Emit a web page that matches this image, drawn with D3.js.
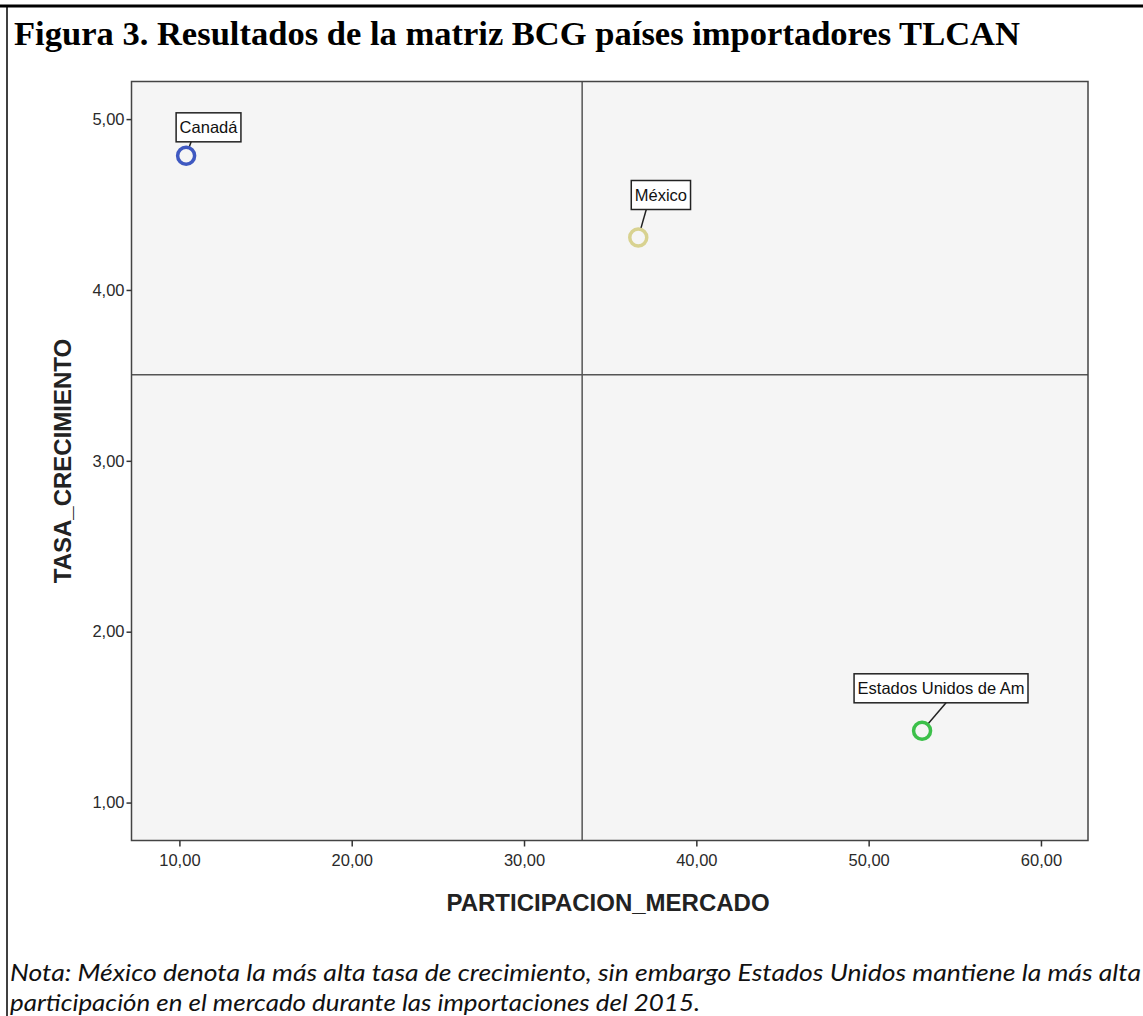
<!DOCTYPE html>
<html lang="es">
<head>
<meta charset="utf-8">
<title>Figura 3. Matriz BCG</title>
<script src="https://d3js.org/d3.v7.min.js"></script>
<style>
  body { margin: 0; background: #fff; }
  svg { display: block; }
  .tick text { font-family: "Liberation Sans", Arial, sans-serif; font-size: 16.5px; fill: #2a2a2a; }
</style>
</head>
<body>
<div id="chart"></div>
<script>
// data
var countries = ["Canadá", "México", "Estados Unidos de Am"];
var participacion = [10.39, 36.63, 53.10];
var tasa = [4.785, 4.307, 1.42];
var colors = ["#3f59c1", "#d8d290", "#3cc04a"];
var xTicks = [10, 20, 30, 40, 50, 60];
var yTicks = [1, 2, 3, 4, 5];
var xDomain = [7.22, 62.73];
var yDomain = [0.778, 5.22];

// label callout offsets (px, from point to box bottom-left)
var labelOffsets = [[-10, -14], [-7, -28], [-68, -28]];
// where the leader line leaves the box bottom (px from box left)
var leaderFrom = [15, 15, 92];

var W = 1143, H = 1016;
var plot = {left: 131.5, top: 81.5, right: 1088, bottom: 840.5};

var svg = d3.select("#chart").append("svg")
    .attr("width", W)
    .attr("height", H);

// page frame
svg.append("line").attr("x1", 0).attr("x2", W).attr("y1", 6).attr("y2", 6)
    .attr("stroke", "#000").attr("stroke-width", 3);
svg.append("line").attr("x1", 7).attr("x2", 7).attr("y1", 6).attr("y2", H)
    .attr("stroke", "#000").attr("stroke-width", 1.5);

svg.append("text")
    .attr("x", 14).attr("y", 45)
    .attr("textLength", 1006).attr("lengthAdjust", "spacingAndGlyphs")
    .style("font-family", "'Liberation Serif', 'Times New Roman', serif")
    .style("font-weight", "bold").style("font-size", "34px")
    .text("Figura 3. Resultados de la matriz BCG países importadores TLCAN");

var x = d3.scaleLinear().domain(xDomain).range([plot.left, plot.right]);
var y = d3.scaleLinear().domain(yDomain).range([plot.bottom, plot.top]);
var fmt = function(d) { return d3.format(".2f")(d).replace(".", ","); };

svg.append("rect")
    .attr("x", plot.left).attr("y", plot.top)
    .attr("width", plot.right - plot.left).attr("height", plot.bottom - plot.top)
    .attr("fill", "#f5f5f5");

// quadrant lines at the means
var mx = d3.mean(participacion), my = d3.mean(tasa);
svg.append("line").attr("x1", x(mx)).attr("x2", x(mx))
    .attr("y1", plot.top).attr("y2", plot.bottom)
    .attr("stroke", "#555").attr("stroke-width", 1.5);
svg.append("line").attr("x1", plot.left).attr("x2", plot.right)
    .attr("y1", y(my)).attr("y2", y(my))
    .attr("stroke", "#555").attr("stroke-width", 1.5);

svg.append("rect")
    .attr("x", plot.left).attr("y", plot.top)
    .attr("width", plot.right - plot.left).attr("height", plot.bottom - plot.top)
    .attr("fill", "none").attr("stroke", "#444").attr("stroke-width", 1.5);

var xAxis = svg.append("g")
    .attr("transform", "translate(0," + plot.bottom + ")")
    .call(d3.axisBottom(x).tickValues(xTicks).tickFormat(fmt).tickSize(6).tickSizeOuter(0).tickPadding(8));
var yAxis = svg.append("g")
    .attr("transform", "translate(" + plot.left + ",0)")
    .call(d3.axisLeft(y).tickValues(yTicks).tickFormat(fmt).tickSize(5).tickSizeOuter(0).tickPadding(2));
[xAxis, yAxis].forEach(function(a) {
    a.select(".domain").remove();
    a.selectAll(".tick line").attr("stroke", "#333").attr("stroke-width", 1.5);
});

svg.append("text")
    .attr("x", 608).attr("y", 911)
    .attr("text-anchor", "middle")
    .style("font-family", "'Liberation Sans', Arial, sans-serif")
    .style("font-weight", "bold").style("font-size", "24px").style("fill", "#222")
    .text("PARTICIPACION_MERCADO");

svg.append("text")
    .attr("transform", "translate(71," + 461 + ") rotate(-90)")
    .attr("text-anchor", "middle")
    .style("font-family", "'Liberation Sans', Arial, sans-serif")
    .style("font-weight", "bold").style("font-size", "24px").style("fill", "#222")
    .text("TASA_CRECIMIENTO");

// points and callouts
var pts = countries.map(function(c, i) {
    return {name: c, px: participacion[i], ty: tasa[i], color: colors[i], off: labelOffsets[i], lf: leaderFrom[i]};
});

var lab = svg.append("g").selectAll("g").data(pts).join("g");
lab.each(function(d) {
    var g = d3.select(this);
    var cx = x(d.px), cy = y(d.ty);
    var bx = cx + d.off[0], by = cy + d.off[1];
    var t = g.append("text")
        .attr("x", bx + 3.5).attr("y", by - 8.5)
        .style("font-family", "'Liberation Sans', Arial, sans-serif")
        .style("font-size", "16.5px").style("fill", "#111")
        .text(d.name);
    var w = t.node().getComputedTextLength() + 7;
    g.insert("rect", "text")
        .attr("x", bx).attr("y", by - 29)
        .attr("width", w).attr("height", 29)
        .attr("fill", "#fff").attr("stroke", "#222").attr("stroke-width", 1.5);
    // leader line from box to circle edge
    var lx = bx + d.lf, ly = by;
    var ang = Math.atan2(ly - cy, lx - cx);
    g.append("line")
        .attr("x1", lx).attr("y1", ly)
        .attr("x2", cx + 9 * Math.cos(ang)).attr("y2", cy + 9 * Math.sin(ang))
        .attr("stroke", "#222").attr("stroke-width", 1.5);
    g.append("circle")
        .attr("cx", cx).attr("cy", cy).attr("r", 8.5)
        .attr("fill", "none").attr("stroke", d.color).attr("stroke-width", 3.5);
});

// note
var note = ["Nota: México denota la más alta tasa de crecimiento, sin embargo Estados Unidos mantiene la más alta",
            "participación en el mercado durante las importaciones del 2015."];
var noteLen = [1131, 690];
svg.selectAll(".note").data(note).join("text")
    .attr("class", "note")
    .attr("x", 10).attr("y", function(d, i) { return 981 + i * 30; })
    .attr("textLength", function(d, i) { return noteLen[i]; })
    .attr("lengthAdjust", "spacingAndGlyphs")
    .style("font-family", "Lato, 'Open Sans', sans-serif")
    .style("font-style", "italic").style("font-size", "23px").style("fill", "#111")
    .text(function(d) { return d; });
</script>
</body>
</html>
